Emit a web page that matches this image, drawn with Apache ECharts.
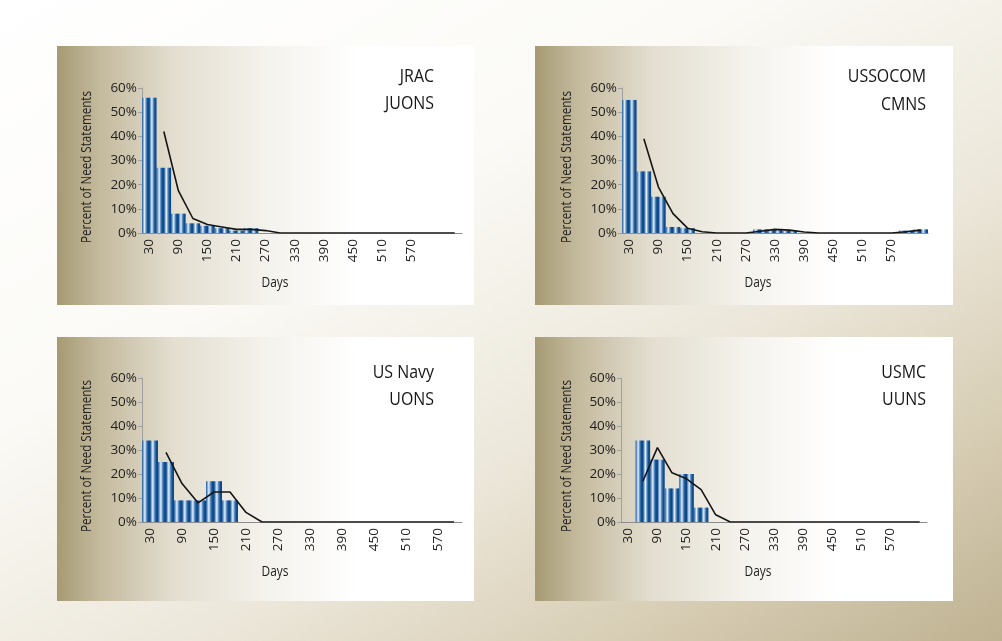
<!DOCTYPE html>
<html>
<head>
<meta charset="utf-8">
<script src="https://cdn.jsdelivr.net/npm/echarts@6/dist/echarts.min.js"></script>
<style>
  html, body { margin: 0; padding: 0; }
  body {
    width: 1002px; height: 641px; overflow: hidden;
    background: linear-gradient(150deg, #ffffff 0%, #fbfaf6 35%, #ece7da 62%, #d7cdb4 82%, #bfb292 100%);
  }
  #chart { width: 1002px; height: 641px; }
</style>
</head>
<body>
<div id="chart"></div>
<script>
// ---------------- DATA ----------------
// 30-day bins (days)
const daysJRAC    = [30,60,90,120,150,180,210,240,270,300,330,360,390,420,450,480,510,540,570,600,630,660];
const daysUSSOCOM = [30,60,90,120,150,180,210,240,270,300,330,360,390,420,450,480,510,540,570,600,630];
const daysNavy    = [30,60,90,120,150,180,210,240,270,300,330,360,390,420,450,480,510,540,570,600];
const daysUSMC    = [30,60,90,120,150,180,210,240,270,300,330,360,390,420,450,480,510,540,570,600,630];

// x tick labels shown
const tickLabels = [30,90,150,210,270,330,390,450,510,570];
// y ticks (percent)
const yTicks = [0,10,20,30,40,50,60];

// Percent of need statements per bin
const jracBars    = [56,27,8,4,3,2,1,2,0,0,0,0,0,0,0,0,0,0,0,0,0,0];
const jracLine    = [null,42,17.5,6,3.5,2.5,1.5,1.5,1,0,0,0,0,0,0,0,0,0,0,0,0,0];

const ussocomBars = [55,25.5,15,2.5,2,0,0,0,0,1.5,1.5,1,0,0,0,0,0,0,0,1,1.5];
const ussocomLine = [null,39,19,8,2,0.5,0,0,0,0.7,1.5,1.2,0.4,0,0,0,0,0,0,0.5,1.2];

const navyBars    = [34,25,9,9,17,9,0,0,0,0,0,0,0,0,0,0,0,0,0,0];
const navyLine    = [null,29,16,8,12.5,12.5,4,0,0,0,0,0,0,0,0,0,0,0,0,0];

const usmcBars    = [0,34,26,14,20,6,0,0,0,0,0,0,0,0,0,0,0,0,0,0,0];
const usmcLine    = [null,17,31,20.5,18,13.5,3,0,0,0,0,0,0,0,0,0,0,0,0,0,0];

const titles = [['JRAC','JUONS'],['USSOCOM','CMNS'],['US Navy','UONS'],['USMC','UUNS']];
const yName = 'Percent of Need Statements';
const xName = 'Days';

// ---------------- LAYOUT / STYLE ----------------
const wordFont = "'Open Sans','Liberation Sans',sans-serif";
const numFont  = "'Open Sans','Liberation Sans',sans-serif";

// horizontal condensing factors to mimic a condensed typeface
const ctx = document.createElement('canvas').getContext('2d');
function textW(txt, size){ ctx.font = size + "px " + wordFont; return ctx.measureText(txt).width; }
const TITLE_SIZE = 18, NAME_SIZE = 14, DAYS_SIZE = 14.5;
const titleScale = 49 / textW('JUONS', TITLE_SIZE);
const nameScale  = 152 / textW(yName, NAME_SIZE);
const daysScale  = 27 / textW(xName, DAYS_SIZE);

const panels = [
  { bg:[57,46,417,259],  grid:{left:142,top:88,width:320,height:145},  tx:434, ty:[77,104],  dx:275, dy:283, nx:87,  ny:167, cats:daysJRAC,    bars:jracBars,    line:jracLine },
  { bg:[535,46,418,259], grid:{left:622,top:88,width:306,height:145},  tx:926, ty:[77,105],  dx:758, dy:283, nx:567, ny:167, cats:daysUSSOCOM, bars:ussocomBars, line:ussocomLine },
  { bg:[57,337,417,264], grid:{left:142,top:378,width:320,height:144}, tx:434, ty:[373,400], dx:275, dy:572, nx:87,  ny:456, cats:daysNavy,    bars:navyBars,    line:navyLine },
  { bg:[535,337,418,264],grid:{left:621,top:378,width:306,height:144}, tx:926, ty:[373,400], dx:758, dy:572, nx:567, ny:456, cats:daysUSMC,    bars:usmcBars,    line:usmcLine }
];

const chart = echarts.init(document.getElementById('chart'), null, {renderer:'canvas'});

const barGrad = () => new echarts.graphic.LinearGradient(0,0,1,0,[
  {offset:0.00,color:'#1a5290'},
  {offset:0.08,color:'#6f9fd0'},
  {offset:0.18,color:'#e8f0f9'},
  {offset:0.28,color:'#5d92c8'},
  {offset:0.38,color:'#15508f'},
  {offset:0.50,color:'#0d4482'},
  {offset:0.58,color:'#6f9fd0'},
  {offset:0.68,color:'#e8f0f9'},
  {offset:0.78,color:'#5d92c8'},
  {offset:0.88,color:'#15508f'},
  {offset:1.00,color:'#0d4482'}
]);

const panelGrad = () => new echarts.graphic.LinearGradient(0,0,1,0,[
  {offset:0.00,color:'#a69a74'},
  {offset:0.10,color:'#c3b99c'},
  {offset:0.28,color:'#e3ded0'},
  {offset:0.50,color:'#f4f2ec'},
  {offset:0.72,color:'#ffffff'},
  {offset:1.00,color:'#ffffff'}
]);

const grids = [], xAxes = [], yAxes = [], series = [], graphics = [];

panels.forEach((p, i) => {
  grids.push(Object.assign({containLabel:false}, p.grid));
  xAxes.push({
    type:'category', gridIndex:i, data:p.cats.map(String), boundaryGap:true,
    axisLine:{show:true, lineStyle:{color:'#8c8c8c', width:1}},
    axisTick:{show:false},
    axisLabel:{
      rotate:90, margin:6, interval:0, color:'#1e1e1e', fontSize:13.5, fontFamily:numFont,
      formatter: v => tickLabels.indexOf(Number(v)) >= 0 ? v : ''
    },
    splitLine:{show:false}
  });
  yAxes.push({
    type:'value', gridIndex:i, min:yTicks[0], max:yTicks[yTicks.length-1], interval:yTicks[1]-yTicks[0],
    axisLine:{show:true, lineStyle:{color:'#a0a0a0', width:1}},
    axisTick:{show:true, length:4, lineStyle:{color:'#a0a0a0'}},
    axisLabel:{formatter:'{value}%', margin:5, color:'#1e1e1e', fontSize:13.5, fontFamily:numFont},
    splitLine:{show:false}
  });
  series.push({
    type:'bar', xAxisIndex:i, yAxisIndex:i, data:p.bars, barWidth:'100%', barGap:'0%',
    itemStyle:{color:barGrad()}, silent:true, z:2
  });
  series.push({
    type:'line', xAxisIndex:i, yAxisIndex:i, data:p.line, connectNulls:true,
    symbol:'none', showSymbol:false, smooth:false,
    lineStyle:{color:'#151515', width:1.6}, silent:true, z:3
  });

  graphics.push({
    type:'rect', z:-100, silent:true,
    shape:{x:p.bg[0], y:p.bg[1], width:p.bg[2], height:p.bg[3]},
    style:{fill:panelGrad()}
  });
  titles[i].forEach((t, k) => {
    graphics.push({
      type:'text', z:100, silent:true, x:p.tx, y:p.ty[k], scaleX:titleScale, scaleY:1,
      style:{text:t, align:'right', verticalAlign:'middle', textAlign:'right', textVerticalAlign:'middle',
             fontSize:TITLE_SIZE, fontFamily:wordFont, fill:'#161616'}
    });
  });
  graphics.push({
    type:'text', z:100, silent:true, x:p.dx, y:p.dy, scaleX:daysScale, scaleY:1,
    style:{text:xName, align:'center', verticalAlign:'middle', textAlign:'center', textVerticalAlign:'middle',
           fontSize:DAYS_SIZE, fontFamily:wordFont, fill:'#1e1e1e'}
  });
  graphics.push({
    type:'text', z:100, silent:true, x:p.nx, y:p.ny, rotation:Math.PI/2, scaleX:nameScale, scaleY:1,
    style:{text:yName, align:'center', verticalAlign:'middle', textAlign:'center', textVerticalAlign:'middle',
           fontSize:NAME_SIZE, fontFamily:wordFont, fill:'#1e1e1e'}
  });
});

chart.setOption({
  animation:false,
  backgroundColor:'transparent',
  grid:grids, xAxis:xAxes, yAxis:yAxes, series:series,
  graphic:{elements:graphics}
});
</script>
</body>
</html>
